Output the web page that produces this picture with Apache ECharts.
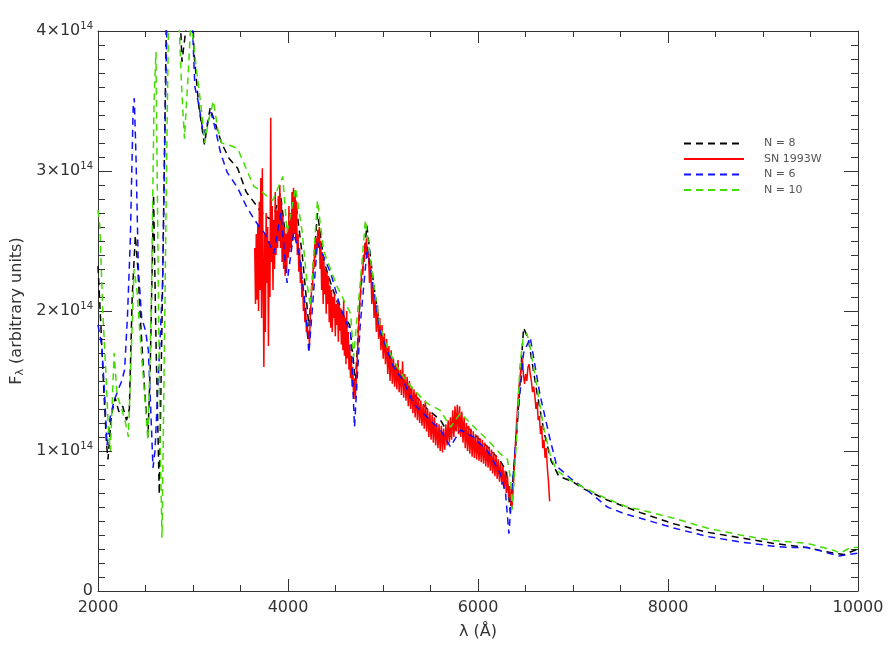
<!DOCTYPE html>
<html>
<head>
<meta charset="utf-8">
<script src="https://cdn.jsdelivr.net/npm/echarts@6/dist/echarts.min.js"></script>
<style>
html,body{margin:0;padding:0;background:#fff;}
#chart{width:887px;height:654px;}
</style>
</head>
<body>
<div id="chart"></div>
<script>
// Flux values are in units of 10^14 (arbitrary units); wavelengths in Angstrom
const FLUX_EXP = 14;
const xTicks = [2000, 4000, 6000, 8000, 10000];
const yTicks = [0, 1, 2, 3, 4];
const seriesNames = ['N = 8', 'SN 1993W', 'N = 6', 'N = 10'];

const modelN8 = [
 [2000,2.32],[2030,1.9],[2060,1.45],[2090,1.05],[2105,0.94],[2140,1.25],[2180,1.38],[2220,1.28],
 [2260,1.32],[2300,1.22],[2330,1.3],[2360,2.1],[2393,2.54],[2420,2.3],[2450,1.9],[2490,1.45],
 [2526,1.1],[2550,1.6],[2585,2.83],[2610,1.8],[2645,0.69],[2680,2.2],[2720,4.1],[2760,4.4],
 [2860,4.2],[2884,3.78],[2940,4.1],[2990,4.3],[3010,3.85],[3060,3.47],[3120,3.19],[3180,3.45],
 [3240,3.33],[3300,3.2],[3380,3.09],[3470,3.02],[3560,2.85],[3650,2.77],[3700,2.72],[3800,2.66],
 [3850,2.68],[3920,2.84],[3990,2.44],[4080,2.79],[4150,2.4],[4220,1.89],[4310,2.7],[4380,2.35],
 [4450,2.2],[4550,2.0],[4650,1.9],[4710,1.5],[4760,2.1],[4830,2.61],[4900,2.2],[4970,1.87],
 [5045,1.72],[5110,1.62],[5215,1.5],[5320,1.41],[5465,1.3],[5605,1.22],[5710,1.1],[5815,1.22],
 [5990,1.1],[6100,1.03],[6235,0.93],[6300,0.85],[6340,0.56],[6410,1.15],[6480,1.88],[6530,1.8],
 [6620,1.42],[6700,1.12],[6770,0.93],[6850,0.82],[7000,0.78],[7110,0.73],[7360,0.65],[7710,0.56],
 [8060,0.48],[8410,0.42],[8760,0.38],[9110,0.34],[9465,0.31],[9745,0.27],[9850,0.26],[10000,0.3]
];

const modelN6 = [
 [2000,1.9],[2040,1.75],[2070,1.4],[2095,1.04],[2130,1.25],[2170,1.36],[2220,1.45],[2250,1.5],
 [2280,1.58],[2310,1.96],[2340,2.5],[2370,3.45],[2382,3.52],[2400,3.1],[2425,2.3],[2460,1.95],
 [2500,1.86],[2530,1.72],[2555,1.3],[2579,0.88],[2600,1.0],[2640,1.6],[2680,2.2],[2710,3.5],
 [2730,4.2],[2800,4.6],[2900,4.6],[2990,4.1],[3020,3.6],[3060,3.48],[3110,3.26],[3190,3.42],
 [3235,3.3],[3290,3.13],[3360,2.99],[3470,2.88],[3560,2.75],[3640,2.66],[3700,2.6],[3760,2.55],
 [3850,2.41],[3925,2.7],[3990,2.2],[4060,2.56],[4120,2.4],[4180,2.05],[4220,1.7],[4310,2.49],
 [4450,2.27],[4550,2.03],[4660,1.84],[4700,1.17],[4760,1.9],[4835,2.46],[4900,2.16],[4970,1.85],
 [5045,1.72],[5110,1.6],[5215,1.5],[5320,1.34],[5465,1.24],[5605,1.15],[5710,1.03],[5815,1.15],
 [5950,1.1],[6100,1.0],[6235,0.84],[6290,0.7],[6325,0.41],[6400,1.1],[6480,1.7],[6550,1.81],
 [6650,1.41],[6760,1.08],[6830,0.89],[7000,0.79],[7150,0.72],[7360,0.6],[7550,0.55],[7710,0.52],
 [8060,0.45],[8410,0.39],[8760,0.35],[9110,0.32],[9290,0.31],[9465,0.31],[9640,0.28],[9800,0.25],
 [10000,0.27]
];

const modelN10 = [
 [2000,2.72],[2020,2.6],[2050,2.0],[2080,1.6],[2110,1.15],[2130,1.0],[2150,1.35],[2170,1.7],
 [2200,1.4],[2250,1.3],[2290,1.2],[2320,1.1],[2345,1.6],[2380,2.3],[2410,2.15],[2440,1.85],
 [2480,1.5],[2525,1.08],[2560,2.0],[2590,3.5],[2610,3.85],[2630,2.5],[2650,1.2],[2674,0.38],
 [2700,1.8],[2725,3.2],[2745,4.2],[2800,4.5],[2850,4.1],[2880,3.6],[2910,3.23],[2950,3.7],
 [2980,4.1],[3000,3.95],[3040,3.7],[3080,3.49],[3125,3.2],[3160,3.35],[3215,3.5],[3260,3.3],
 [3300,3.2],[3400,3.18],[3470,3.16],[3570,3.0],[3640,2.89],[3710,2.86],[3780,2.82],[3840,2.79],
 [3945,2.96],[3990,2.56],[4080,2.88],[4150,2.56],[4200,2.2],[4235,2.03],[4310,2.79],[4375,2.43],
 [4520,2.17],[4660,1.98],[4690,1.67],[4760,2.2],[4815,2.65],[4900,2.2],[4970,1.89],[5045,1.74],
 [5110,1.65],[5215,1.53],[5320,1.44],[5465,1.34],[5605,1.29],[5710,1.17],[5815,1.27],[5990,1.15],
 [6100,1.08],[6235,0.98],[6310,0.94],[6345,0.79],[6360,0.58],[6410,1.13],[6440,1.6],[6475,1.81],
 [6515,1.84],[6550,1.74],[6620,1.46],[6690,1.17],[6765,0.96],[6830,0.86],[6975,0.79],[7110,0.74],
 [7320,0.67],[7570,0.6],[7710,0.58],[8060,0.52],[8410,0.45],[8760,0.4],[9110,0.36],[9465,0.34],
 [9745,0.29],[9810,0.27],[9920,0.31],[10000,0.31]
];

const observed1993W = [
 [3650,2.45],[3658,2.05],[3666,2.55],[3674,2.08],[3682,2.62],[3690,2.0],[3698,2.78],[3706,2.15],
 [3714,2.95],[3722,1.95],[3730,3.02],[3738,2.25],[3746,1.6],[3754,2.55],[3762,1.85],[3770,2.7],
 [3778,2.2],[3786,2.6],[3794,1.75],[3802,2.5],[3810,2.1],[3818,3.38],[3826,2.35],[3834,2.75],
 [3842,2.15],[3850,2.65],[3858,2.3],[3866,2.85],[3874,2.4],[3882,2.72],[3890,2.45],[3898,2.82],
 [3906,2.5],[3914,2.9],[3922,2.45],[3930,2.78],[3938,2.35],[3946,2.68],[3954,2.3],[3962,2.6],
 [3970,2.25],[3978,2.55],[3986,2.27],[3994,2.6],[4002,2.38],[4010,2.75],[4018,2.42],[4026,2.7],
 [4034,2.45],[4042,2.85],[4050,2.5],[4058,2.88],[4066,2.55],[4074,2.86],[4082,2.5],[4090,2.78],
 [4098,2.4],[4106,2.55],[4114,2.28],[4122,2.45],[4130,2.2],[4138,2.35],[4146,2.1],[4154,2.22],
 [4162,2.0],[4170,2.1],[4178,1.92],[4186,2.02],[4194,1.85],[4202,1.92],[4210,1.8],[4218,1.86],
 [4226,1.76],[4234,1.95],[4242,2.05],[4250,2.2],[4258,2.15],[4266,2.35],[4274,2.3],[4282,2.48],
 [4290,2.38],[4298,2.52],[4306,2.45],[4314,2.58],[4322,2.45],[4330,2.6],[4338,2.3],[4346,2.5],
 [4354,2.15],[4362,2.42],[4370,2.05],[4378,2.35],[4386,2.12],[4394,2.3],[4402,1.98],[4410,2.28],
 [4418,2.05],[4426,2.25],[4434,1.92],[4442,2.18],[4450,1.88],[4458,2.15],[4466,1.85],[4474,2.1],
 [4482,1.95],[4490,2.12],[4498,1.82],[4506,2.05],[4514,1.9],[4522,2.08],[4530,1.78],[4538,2.06],
 [4546,1.86],[4554,2.02],[4562,1.76],[4570,1.98],[4578,1.72],[4586,2.08],[4594,1.68],[4602,1.95],
 [4610,1.62],[4618,2.0],[4626,1.66],[4634,1.85],[4642,1.58],[4650,1.76],[4658,1.52],[4666,1.68],
 [4674,1.46],[4682,1.6],[4690,1.4],[4698,1.52],[4706,1.37],[4714,1.45],[4722,1.55],[4730,1.68],
 [4738,1.8],[4746,1.95],[4754,2.05],[4762,2.12],[4770,2.22],[4778,2.3],[4786,2.26],[4794,2.4],
 [4802,2.35],[4810,2.48],[4818,2.4],[4826,2.52],[4834,2.38],[4846,2.42],[4858,2.2],[4870,2.35],
 [4882,2.05],[4894,2.2],[4906,1.95],[4918,2.08],[4930,1.85],[4942,2.04],[4954,1.8],[4966,1.95],
 [4978,1.72],[4990,1.9],[5002,1.66],[5014,1.84],[5026,1.62],[5038,1.8],[5050,1.55],[5062,1.75],
 [5074,1.5],[5086,1.72],[5098,1.48],[5110,1.66],[5122,1.46],[5134,1.62],[5146,1.44],[5158,1.65],
 [5170,1.42],[5182,1.58],[5194,1.4],[5206,1.64],[5218,1.38],[5230,1.55],[5242,1.36],[5254,1.53],
 [5266,1.32],[5278,1.5],[5290,1.3],[5302,1.46],[5314,1.27],[5326,1.44],[5338,1.24],[5350,1.42],
 [5362,1.22],[5374,1.38],[5386,1.2],[5398,1.36],[5410,1.18],[5422,1.33],[5434,1.16],[5446,1.36],
 [5458,1.14],[5470,1.3],[5482,1.1],[5494,1.28],[5506,1.08],[5518,1.26],[5530,1.06],[5542,1.24],
 [5554,1.04],[5566,1.2],[5578,1.02],[5590,1.19],[5602,1.0],[5614,1.18],[5626,0.99],[5638,1.16],
 [5650,1.01],[5662,1.19],[5674,1.04],[5686,1.22],[5698,1.06],[5710,1.24],[5722,1.08],[5734,1.29],
 [5746,1.1],[5758,1.32],[5770,1.14],[5782,1.33],[5794,1.12],[5806,1.32],[5818,1.1],[5830,1.28],
 [5842,1.06],[5854,1.24],[5866,1.02],[5878,1.2],[5890,1.0],[5902,1.18],[5914,0.98],[5926,1.16],
 [5938,0.96],[5950,1.14],[5962,0.95],[5974,1.12],[5986,0.94],[5998,1.11],[6010,0.93],[6022,1.09],
 [6034,0.92],[6046,1.08],[6058,0.91],[6070,1.06],[6082,0.89],[6094,1.04],[6106,0.88],[6118,1.03],
 [6130,0.86],[6142,1.01],[6154,0.84],[6166,0.99],[6178,0.82],[6190,0.97],[6202,0.8],[6214,0.94],
 [6226,0.78],[6238,0.92],[6250,0.76],[6262,0.89],[6274,0.73],[6286,0.86],[6298,0.7],[6310,0.82],
 [6322,0.67],[6334,0.75],[6346,0.62],[6358,0.6],[6370,0.72],[6382,0.88],[6394,1.05],[6406,1.2],
 [6418,1.32],[6430,1.45],[6442,1.52],[6454,1.6],[6466,1.66],[6478,1.55],[6490,1.48],[6502,1.55],
 [6514,1.5],[6526,1.6],[6538,1.62],[6550,1.55],[6562,1.5],[6574,1.42],[6586,1.46],[6598,1.4],
 [6610,1.3],[6622,1.35],[6634,1.22],[6646,1.25],[6658,1.12],[6670,1.18],[6682,1.02],[6694,1.08],
 [6706,0.95],[6718,1.02],[6730,0.88],[6742,0.78],[6754,0.64]
];

const chart = echarts.init(document.getElementById('chart'), null, {renderer: 'canvas'});
const FONT = 'DejaVu Sans';
const AX = '#333';
const dash = [7, 5];

function xAxisCfg(pos, showLabel) {
  return {
    type: 'value', position: pos, min: xTicks[0], max: xTicks[xTicks.length - 1], interval: 2000,
    axisLine: {show: true, onZero: false, lineStyle: {color: AX, width: 1}},
    axisTick: {show: true, inside: true, length: 12, lineStyle: {color: AX}},
    minorTick: {show: true, splitNumber: 4, length: 6, lineStyle: {color: AX}},
    splitLine: {show: false},
    axisLabel: {show: showLabel, margin: 9, color: AX, fontFamily: FONT, fontSize: 16,
      formatter: v => String(v)},
    name: showLabel ? 'λ (Å)' : '', nameLocation: 'middle', nameGap: 33,
    nameTextStyle: {color: AX, fontFamily: FONT, fontSize: 16}
  };
}
function yAxisCfg(pos, showLabel) {
  return {
    type: 'value', position: pos, min: yTicks[0], max: yTicks[yTicks.length - 1], interval: 1,
    axisLine: {show: true, onZero: false, lineStyle: {color: AX, width: 1}},
    axisTick: {show: true, inside: true, length: 14, lineStyle: {color: AX}},
    minorTick: {show: true, splitNumber: 10, length: 7, lineStyle: {color: AX}},
    splitLine: {show: false},
    axisLabel: {
      show: showLabel, margin: 5, color: AX, fontFamily: FONT, fontSize: 16,
      formatter: v => v === 0 ? '{m|0}' : '{m|' + v + '×10}{s|' + FLUX_EXP + '}',
      rich: {
        m: {fontFamily: FONT, fontSize: 16, color: AX},
        s: {fontFamily: FONT, fontSize: 10, color: AX, padding: [0, 0, 9, 0]}
      }
    },
    name: showLabel ? '{a|F}{b|λ}{a| (arbitrary units)}' : '', nameLocation: 'middle', nameGap: 72,
    nameTextStyle: {
      color: AX, fontFamily: FONT, fontSize: 16,
      rich: {
        a: {fontFamily: FONT, fontSize: 16, color: AX},
        b: {fontFamily: FONT, fontSize: 11, color: AX, padding: [6, 0, 0, 0]}
      }
    }
  };
}

function lineSeries(name, data, color, type, z) {
  return {
    name: name, type: 'line', data: data, xAxisIndex: 0, yAxisIndex: 0,
    showSymbol: false, symbol: 'none', clip: true, animation: false, z: z,
    lineStyle: {color: color, width: 1.5, type: type},
    itemStyle: {color: color}
  };
}

chart.setOption({
  backgroundColor: '#fff',
  animation: false,
  grid: {left: 98, right: 29, top: 31, bottom: 63, containLabel: false},
  xAxis: [xAxisCfg('bottom', true), xAxisCfg('top', false)],
  yAxis: [yAxisCfg('left', true), yAxisCfg('right', false)],
  legend: {
    data: seriesNames, orient: 'vertical', left: 678, top: 133,
    itemWidth: 60, itemHeight: 12, itemGap: 4.5,
    itemStyle: {opacity: 0},
    textStyle: {color: '#555', fontFamily: FONT, fontSize: 11, padding: [0, 0, 0, 15]},
    selectedMode: false
  },
  series: [
    lineSeries(seriesNames[0], modelN8, '#000000', dash, 2),
    lineSeries(seriesNames[1], observed1993W, '#ff0000', 'solid', 3),
    lineSeries(seriesNames[2], modelN6, '#1010ff', dash, 4),
    lineSeries(seriesNames[3], modelN10, '#44dd00', dash, 5)
  ]
});
</script>
</body>
</html>
